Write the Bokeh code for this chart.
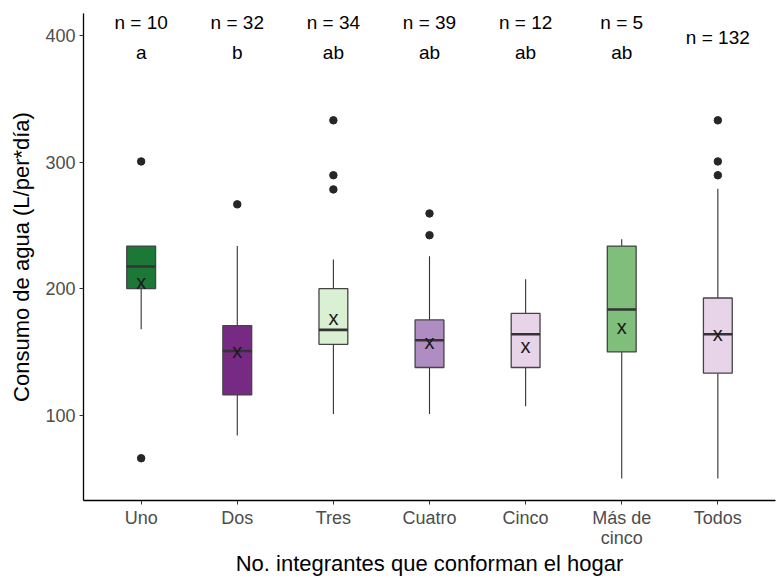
from bokeh.plotting import figure
from bokeh.models import ColumnDataSource, Range1d, FixedTicker
from bokeh.core.properties import value
from bokeh.embed import file_html
from bokeh.resources import INLINE

# Consumo de agua por número de integrantes del hogar
categories = ["Uno", "Dos", "Tres", "Cuatro", "Cinco", "Más de\ncinco", "Todos"]
whisker_low = [168, 84, 101, 101, 107, 50, 50]
q1 = [200, 116, 156, 137.7, 137.7, 150, 133.2]
median = [217.5, 150.7, 167.4, 159.2, 164, 183.5, 164]
q3 = [233.6, 170.8, 200, 175.3, 180.4, 233.6, 192.6]
whisker_high = [233.6, 233.6, 223, 225.5, 207.4, 239, 279]
means = [205.6, 151, 176.7, 158, 154.4, 169.3, 164.5]
outliers = [[300.5, 66], [266.6], [333, 289.6, 278.4], [259.4, 242.2], [], [], [333, 300.5, 289.6]]
n_counts = [10, 32, 34, 39, 12, 5, 132]
letters = ["a", "b", "ab", "ab", "ab", "ab", ""]
colors = ["#1b7837", "#762a83", "#d9f0d3", "#af8dc3", "#e7d4e8", "#7fbf7b", "#e7d4e8"]

xs = list(range(1, len(categories) + 1))
box_w = 0.3
FONT = "Liberation Sans"

p = figure(width=777, height=578, output_backend="svg", toolbar_location=None,
           x_range=Range1d(0.4, 7.6), y_range=Range1d(32.6, 417.4),
           min_border_left=83, min_border_right=2, min_border_top=13, min_border_bottom=78)
p.background_fill_color = "white"
p.border_fill_color = "white"
p.outline_line_color = None
p.xgrid.visible = False
p.ygrid.visible = False

src = ColumnDataSource(dict(x=xs, lo=whisker_low, q1=q1, med=median, q3=q3, hi=whisker_high,
                            mean=means, color=colors))

# whiskers
p.segment(x0="x", y0="lo", x1="x", y1="q1", source=src, line_color="#333333", line_width=1.1)
p.segment(x0="x", y0="q3", x1="x", y1="hi", source=src, line_color="#333333", line_width=1.1)
# boxes
p.vbar(x="x", width=box_w, bottom="q1", top="q3", source=src, fill_color="color",
       line_color="#444444", line_width=1.3)
# medians
p.segment(x0=[x - box_w / 2 for x in xs], y0=median, x1=[x + box_w / 2 for x in xs], y1=median,
          line_color="#333333", line_width=2.6)

# outliers
ox, oy = [], []
for x, vals in zip(xs, outliers):
    for v in vals:
        ox.append(x)
        oy.append(v)
p.scatter(ox, oy, size=7.5, color="#262626")

# means
p.text(x="x", y="mean", text=value("x"), source=src, text_align="center", text_baseline="middle",
       text_font=value(FONT), text_font_size="20px", text_color="#1a1a1a")

# sample sizes and group letters
n_y = [410.3 if l else 398.4 for l in letters]
p.text(x=xs, y=n_y, text=[f"n = {n}" for n in n_counts], text_align="center", text_baseline="middle",
       text_font=value(FONT), text_font_size="19px", text_color="black")
p.text(x=xs, y=[386.6] * len(xs), text=letters, text_align="center", text_baseline="middle",
       text_font=value(FONT), text_font_size="19px", text_color="black")

# axes
p.xaxis.ticker = FixedTicker(ticks=xs)
p.xaxis.major_label_overrides = {x: c for x, c in zip(xs, categories)}
p.yaxis.ticker = FixedTicker(ticks=[100, 200, 300, 400])
for ax in (p.xaxis[0], p.yaxis[0]):
    ax.axis_line_color = "black"
    ax.axis_line_width = 1.3
    ax.major_tick_line_color = "#333333"
    ax.major_tick_in = 0
    ax.major_tick_out = 4
    ax.minor_tick_line_color = None
    ax.major_label_text_font = FONT
    ax.major_label_text_font_size = "18px"
    ax.major_label_text_color = "#4d4d4d"
    ax.major_label_text_line_height = 1.0
    ax.axis_label_text_font = FONT
    ax.axis_label_text_font_size = "22px"
    ax.axis_label_text_font_style = "normal"
    ax.axis_label_text_color = "black"
    ax.axis_label_text_line_height = 1.0
p.xaxis.axis_label = "No. integrantes que conforman el hogar"
p.yaxis.axis_label = "Consumo de agua (L/per*día)"
p.xaxis.major_label_standoff = 3
p.xaxis.axis_label_standoff = 0
p.yaxis.major_label_standoff = 4
p.yaxis.axis_label_standoff = 8

open("out.html", "w").write(file_html(p, INLINE))
